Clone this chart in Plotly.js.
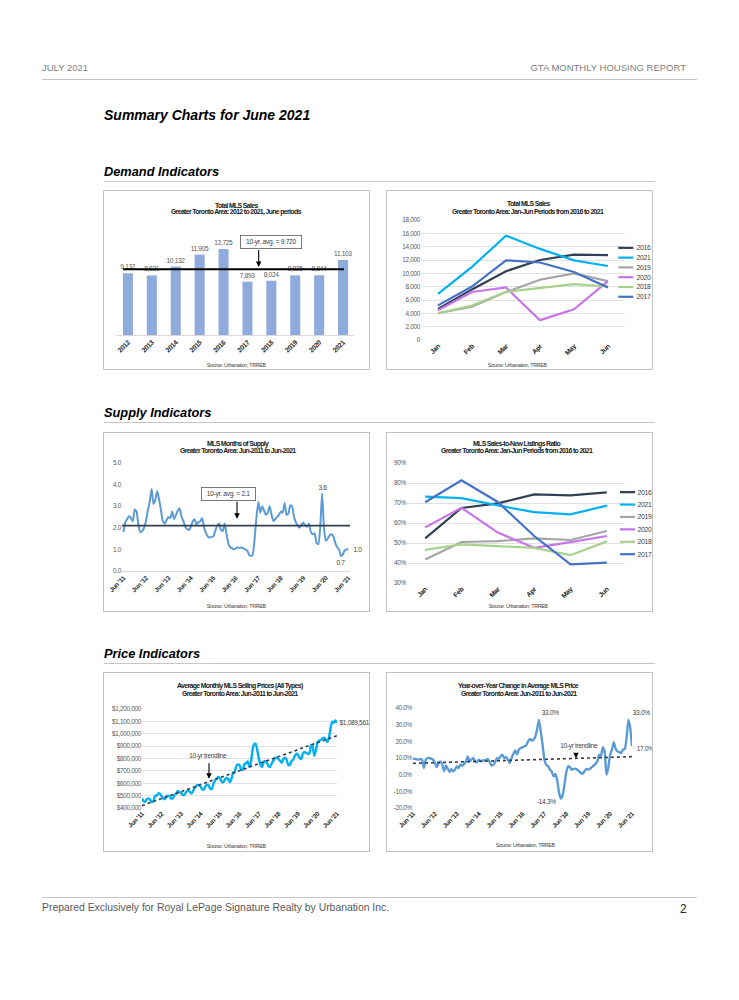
<!DOCTYPE html>
<html><head><meta charset="utf-8">
<script src="https://cdn.plot.ly/plotly-3.0.1.min.js"></script>
<style>
body{margin:0;background:#fff;}
#page{position:relative;width:739px;height:1000px;overflow:hidden;background:#fff;font-family:'Liberation Sans',Arial,sans-serif;}
.t{position:absolute;white-space:nowrap;line-height:1;}
.hl{position:absolute;height:0;border-top:1px solid #c6c6c6;}
.box{position:absolute;border:1px solid #c3c3c3;box-sizing:border-box;pointer-events:none;}
.sec{font-weight:bold;font-style:italic;color:#000;font-size:12.8px;left:104px;}
.main-svg text{letter-spacing:-0.3px;}
</style></head>
<body><div id="page">
<div class="t" style="left:42px;top:63.3px;font-size:9.5px;color:#808080;">JULY 2021</div>
<div class="t" style="right:53px;top:63.3px;font-size:9.5px;color:#808080;">GTA MONTHLY HOUSING REPORT</div>
<div class="hl" style="left:42px;top:79px;width:655px;"></div>
<div class="t" style="left:104px;top:108.2px;font-size:14px;font-weight:bold;font-style:italic;color:#000;">Summary Charts for June 2021</div>
<div class="t sec" style="top:165.7px;">Demand Indicators</div>
<div class="hl" style="left:104px;top:181px;width:551px;"></div>
<div class="t sec" style="top:406.7px;">Supply Indicators</div>
<div class="hl" style="left:104px;top:422px;width:551px;"></div>
<div class="t sec" style="top:647.7px;">Price Indicators</div>
<div class="hl" style="left:104px;top:663px;width:551px;"></div>
<div class="hl" style="left:42px;top:897px;width:655px;"></div>
<div class="t" style="left:42px;top:903px;font-size:10.4px;color:#595959;">Prepared Exclusively for Royal LePage Signature Realty by Urbanation Inc.</div>
<div class="t" style="left:680px;top:903px;font-size:12px;color:#222;">2</div>
</div>
<script>
// ---------------- DATA ----------------
const salesYears = ['2012','2013','2014','2015','2016','2017','2018','2019','2020','2021'];
const juneSales = [9132, 8821, 10132, 11905, 12725, 7893, 8024, 8825, 8844, 11103];
const avgSales = 9720;

const monthsJanJun = ['Jan','Feb','Mar','Apr','May','Jun'];
const lineYears = ['2016','2021','2019','2020','2018','2017'];
const sales2016 = [4672, 7588, 10326, 12008, 12794, 12725];
const sales2021 = [6928, 10970, 15652, 13663, 11951, 11103];
const sales2019 = [4009, 5005, 7187, 9042, 9989, 8825];
const sales2020 = [4472, 7195, 7876, 2975, 4606, 8844];
const sales2018 = [4019, 5175, 7228, 7792, 8384, 8024];
const sales2017 = [5188, 8014, 11954, 11630, 10196, 7893];

const snlr2016 = [52.3, 67.5, 69.8, 74.3, 73.8, 75.3];
const snlr2021 = [73.2, 72.4, 68.8, 65.4, 64.3, 68.7];
const snlr2019 = [41.8, 50.5, 50.9, 52.3, 51.5, 56.0];
const snlr2020 = [57.8, 67.6, 55.2, 47.6, 50.4, 53.5];
const snlr2018 = [46.6, 49.3, 48.4, 47.6, 43.9, 50.8];
const snlr2017 = [70.4, 81.4, 70.5, 53.5, 39.3, 40.2];

const seriesStart = '2011-06'; // Jun-2011 .. Jun-2021, monthly
const monthsSupply = [
 1.8,2.25,2.4,2.55,2.45,2.3,2.85,2.75,2.1,1.8,1.85,2.0,
 2.3,2.8,3.2,3.8,3.1,3.3,3.7,3.3,2.8,2.3,2.2,2.35,
 2.5,2.45,2.75,2.4,2.6,2.8,2.9,2.5,2.3,2.05,1.95,1.9,
 2.05,2.3,2.4,2.15,2.25,2.3,2.45,2.0,1.75,1.6,1.55,1.58,
 1.6,1.85,2.1,2.2,1.9,1.85,2.2,1.7,1.25,1.1,1.05,1.0,
 1.05,1.1,1.05,1.1,1.05,1.0,0.95,0.75,0.7,0.75,1.5,2.5,
 3.2,2.7,3.0,2.8,2.6,2.7,3.0,2.6,2.3,2.4,2.5,2.6,
 2.75,2.7,3.15,2.6,2.65,3.05,3.0,2.5,2.25,2.1,2.0,2.15,
 2.25,2.1,2.05,2.2,1.8,1.7,1.75,1.3,1.25,2.0,3.6,2.0,
 1.4,1.5,1.65,1.7,1.6,1.3,1.1,1.0,0.7,0.75,0.95,1.0,
 1.0];
const avgSupply = 2.1;

const avgPrice = [
 478000,455000,450000,472000,478000,468000,447000,
 455000,497000,500000,518000,515000,497000,477000,471000,492000,500000,492000,476000,
 480000,509000,516000,537000,528000,523000,508000,506000,526000,538000,537000,520000,
 525000,555000,571000,587000,584000,575000,551000,549000,575000,588000,583000,556000,
 553000,599000,622000,640000,650000,640000,613000,608000,628000,642000,635000,608000,
 633000,685000,688000,739000,752000,747000,710000,710000,756000,762000,776000,730000,
 770000,875000,917000,920000,863000,793000,746000,732000,775000,780000,761000,735000,
 736000,767000,784000,805000,806000,795000,782000,765000,796000,807000,788000,748000,
 747000,780000,788000,820000,838000,831000,806000,793000,843000,852000,846000,838000,
 839000,910000,902000,821000,863000,930000,944000,951000,961000,968000,956000,932000,
 967000,1045000,1097000,1090000,1108000,1089561];
const priceTrend = [419000, 985000]; // 10-yr trendline, Jun-2011 and Jun-2021

const yoyChange = [
 9.5,9.5,9.2,9.0,9.5,8.8,4.0,9.0,10.0,10.0,9.5,9.0,
 7.0,4.5,7.0,8.0,6.0,2.0,5.5,3.5,1.5,3.5,2.0,3.0,
 5.0,4.0,6.0,5.5,6.5,8.0,11.0,8.0,9.0,10.0,8.0,7.5,
 9.0,8.0,8.5,8.5,9.0,9.5,7.5,5.5,6.0,7.5,10.0,9.5,
 11.0,12.0,10.0,10.5,9.0,7.0,10.0,12.5,14.5,12.0,15.0,16.0,
 16.5,17.0,17.5,20.0,21.5,20.5,21.0,23.0,27.5,33.0,26.0,18.0,
 9.0,6.0,5.0,3.0,2.0,-1.0,0.5,-3.5,-11.0,-14.3,-12.5,-6.0,
 1.5,5.0,4.5,3.0,3.5,3.5,3.0,2.0,1.0,0.5,2.0,3.5,
 3.0,3.5,4.5,5.5,6.5,8.0,12.0,11.5,16.5,14.0,0.0,4.0,
 12.0,15.0,19.5,15.5,14.0,13.5,13.0,15.0,15.5,21.5,33.0,28.5,
 17.0];
const yoyTrend = [6.8, 10.8];

// ---------------- STYLE / HELPERS ----------------
const FONT = "'Liberation Sans',Arial,sans-serif";
const W = 267, H = 180;
const BOX = {c1:{x:103,y:190}, c2:{x:386,y:190}, c3:{x:103,y:432}, c4:{x:386,y:432}, c5:{x:103,y:672}, c6:{x:386,y:672}};
const lineColors = ['#333F55','#00B0F0','#A5A5A5','#C774E8','#A9D18E','#4472C4'];
const page = document.getElementById('page');

function monthSeq(start, n){
  const [y, m] = start.split('-').map(Number); const out = [];
  for (let i = 0; i < n; i++){ const k = m - 1 + i; out.push((y + Math.floor(k/12)) + '-' + String(k%12 + 1).padStart(2,'0') + '-01'); }
  return out;
}
function toPaper(key, m, X, Y){
  const b = BOX[key], pw = W - m.l - m.r, ph = H - m.t - m.b;
  return {x:(X - b.x - m.l)/pw, y:(H - m.b - (Y - b.y))/ph};
}
function note(key, m, X, Y, text, o){
  const p = toPaper(key, m, X, Y);
  return Object.assign({xref:'paper', yref:'paper', x:p.x, y:p.y, text:text, showarrow:false,
    xanchor:'center', yanchor:'middle', font:{family:FONT, size:6.5, color:'#404040'}}, o || {});
}
function arrow(key, m, X, Y0, Y1){
  const p = toPaper(key, m, X, Y1);
  return {xref:'paper', yref:'paper', x:p.x, y:p.y, ax:0, ay:Y0 - Y1, text:'', showarrow:true,
    arrowhead:2, arrowsize:1, arrowwidth:1.1, arrowcolor:'#000'};
}
const tSpan = s => '<span style="letter-spacing:-0.65px"><b>' + s + '</b></span>';
function titleNotes(key, m, cx, y1, y2, t1, t2, srcX, srcY){
  return [
    note(key, m, cx, y1, tSpan(t1), {font:{family:FONT, size:6.9, color:'#1a1a1a'}}),
    note(key, m, cx, y2, tSpan(t2), {font:{family:FONT, size:6.9, color:'#1a1a1a'}}),
    note(key, m, srcX, srcY, 'Source: Urbanation, TRREB', {font:{family:FONT, size:5.3, color:'#404040'}})
  ];
}
function legendItems(key, m, names, colors, x0, x1, tx, y0, dy){
  const shapes = [], anns = [];
  names.forEach((n, i) => {
    const a = toPaper(key, m, x0, y0 + i*dy), c = toPaper(key, m, x1, y0 + i*dy);
    shapes.push({type:'line', xref:'paper', yref:'paper', x0:a.x, x1:c.x, y0:a.y, y1:a.y, line:{color:colors[i], width:2.2}});
    anns.push(note(key, m, tx, y0 + i*dy, n, {xanchor:'left', borderpad:0, font:{family:FONT, size:6.8, color:'#404040'}}));
  });
  return {shapes, anns};
}
function base(m){
  return {width:W, height:H, margin:{l:m.l, r:m.r, t:m.t, b:m.b, pad:0}, showlegend:false,
    paper_bgcolor:'rgba(0,0,0,0)', plot_bgcolor:'rgba(0,0,0,0)', hovermode:false,
    font:{family:FONT, size:6.5, color:'#595959'}};
}
function plot(key, traces, layout){
  const b = BOX[key];
  const d = document.createElement('div');
  d.style.cssText = 'position:absolute;left:' + b.x + 'px;top:' + b.y + 'px;width:' + W + 'px;height:' + H + 'px;';
  page.appendChild(d);
  const f = document.createElement('div'); f.className = 'box';
  f.style.cssText = 'left:' + b.x + 'px;top:' + b.y + 'px;width:' + W + 'px;height:' + H + 'px;';
  page.appendChild(f);
  Plotly.newPlot(d, traces, layout, {staticPlot:true, displayModeBar:false});
}
const xTickBold = {family:FONT, size:6.8, color:'#262626', weight:'bold'};
const yTick = {family:FONT, size:6.4, color:'#595959'};
const fmt = v => v.toLocaleString('en-US');

// ---------------- CHART 1: bars ----------------
(function(){
  const k = 'c1', m = {l:13, r:15, t:50, b:35};
  const L = base(m);
  L.xaxis = {type:'category', tickangle:-45, tickfont:xTickBold, showline:true, linecolor:'#d9d9d9', linewidth:1, ticks:'', showgrid:false, zeroline:false};
  L.yaxis = {range:[0, 14060], visible:false, showgrid:false, zeroline:false};
  L.bargap = 0.58;
  L.shapes = [{type:'line', xref:'paper', yref:'y', x0:toPaper(k,m,123,0).x, x1:toPaper(k,m,344,0).x, y0:avgSales, y1:avgSales, line:{color:'#000', width:2}}];
  L.annotations = titleNotes(k, m, 236, 205, 212, 'Total MLS Sales', 'Greater Toronto Area: 2012 to 2021, June periods', 236, 365).concat([
    note(k, m, 270.5, 242, '10-yr. avg. = ' + fmt(avgSales), {bgcolor:'#fff', bordercolor:'#595959', borderwidth:0.8, borderpad:2.4, font:{family:FONT, size:6.7, color:'#404040'}}),
    arrow(k, m, 258.7, 248.5, 267)
  ]);
  plot(k, [{type:'bar', x:salesYears, y:juneSales, marker:{color:'#8FAADC'}, text:juneSales.map(fmt), textposition:'outside',
    textangle:0, constraintext:'none', cliponaxis:false, textfont:{family:FONT, size:6.5, color:'#595959'}}], L);
})();

// ---------------- CHART 2: sales lines ----------------
(function(){
  const k = 'c2', m = {l:35, r:28, t:30.3, b:30.3};
  const series = [sales2016, sales2021, sales2019, sales2020, sales2018, sales2017];
  const L = base(m);
  L.xaxis = {type:'category', tickangle:-45, tickfont:xTickBold, ticks:'', showline:false, showgrid:false, zeroline:false, range:[-0.5, 5.5]};
  L.yaxis = {range:[0, 18000], dtick:2000, tickformat:',', gridcolor:'#d9d9d9', gridwidth:0.8, zeroline:false, showline:false, ticks:'', tickfont:yTick};
  const lg = legendItems(k, m, lineYears, lineColors, 618.3, 633.3, 635, 248, 9.74);
  L.shapes = lg.shapes;
  L.annotations = titleNotes(k, m, 528, 203.7, 212, 'Total MLS Sales', 'Greater Toronto Area: Jan-Jun Periods from 2016 to 2021', 517.7, 364.7).concat(lg.anns);
  plot(k, series.map((s, i) => ({type:'scatter', mode:'lines', x:monthsJanJun, y:s, name:lineYears[i], line:{color:lineColors[i], width:2.2}, cliponaxis:false})), L);
})();

// ---------------- CHART 3: months of supply ----------------
(function(){
  const k = 'c3', m = {l:19.3, r:20.3, t:31.3, b:41};
  const dates = monthSeq(seriesStart, monthsSupply.length);
  const L = base(m);
  L.xaxis = {type:'date', range:['2011-05-09','2021-06-28'], tick0:'2011-06-01', dtick:'M12', tickformat:"%b '%y", tickangle:-45, tickfont:{family:FONT, size:6.4, color:'#262626', weight:'bold'}, ticks:'', showline:true, linecolor:'#d9d9d9', showgrid:false, zeroline:false};
  L.yaxis = {range:[0, 5], dtick:1, tickformat:'.1f', showgrid:false, zeroline:false, ticks:'', tickfont:yTick};
  L.shapes = [{type:'line', xref:'paper', yref:'y', x0:0, x1:1, y0:avgSupply, y1:avgSupply, line:{color:'#333F50', width:1.6}}];
  const n = monthsSupply.length;
  const iMax = monthsSupply.indexOf(Math.max(...monthsSupply.slice(96)), 96);
  const iMin = monthsSupply.indexOf(Math.min(...monthsSupply.slice(108)), 108);
  const lf = {family:FONT, size:6.5, color:'#404040'};
  L.annotations = titleNotes(k, m, 238, 444, 451, 'MLS Months of Supply', 'Greater Toronto Area: Jun-2011 to Jun-2021', 236, 605.7).concat([
    note(k, m, 228.5, 494.7, '10-yr. avg. = ' + avgSupply.toFixed(1), {bgcolor:'#fff', bordercolor:'#595959', borderwidth:0.8, borderpad:2.4, font:{family:FONT, size:6.7, color:'#404040'}}),
    arrow(k, m, 237, 500.5, 519),
    {xref:'x', yref:'y', x:dates[iMax], y:monthsSupply[iMax], text:monthsSupply[iMax].toFixed(1), showarrow:false, xanchor:'center', yanchor:'bottom', yshift:0, font:lf},
    {xref:'x', yref:'y', x:dates[iMin], y:monthsSupply[iMin], text:monthsSupply[iMin].toFixed(1), showarrow:false, xanchor:'center', yanchor:'top', yshift:-1, font:lf},
    {xref:'x', yref:'y', x:dates[n-1], y:monthsSupply[n-1], text:monthsSupply[n-1].toFixed(1), showarrow:false, xanchor:'left', xshift:3, yanchor:'middle', font:lf}
  ]);
  plot(k, [{type:'scatter', mode:'lines', x:dates, y:monthsSupply, line:{color:'#5B9BD5', width:2, shape:'spline', smoothing:0.4}, cliponaxis:false}], L);
})();

// ---------------- CHART 4: sales-to-new listings ----------------
(function(){
  const k = 'c4', m = {l:20.8, r:28, t:31.3, b:29.3};
  const series = [snlr2016, snlr2021, snlr2019, snlr2020, snlr2018, snlr2017];
  const L = base(m);
  L.xaxis = {type:'category', tickangle:-45, tickfont:xTickBold, ticks:'', showline:false, showgrid:false, zeroline:false, range:[-0.5, 5.5]};
  L.yaxis = {range:[30, 90], dtick:10, ticksuffix:'%', gridcolor:'#d9d9d9', gridwidth:0.8, zeroline:false, showline:false, ticks:'', tickfont:yTick};
  const lg = legendItems(k, m, lineYears, lineColors, 620, 635, 636.5, 492.3, 12.35);
  L.shapes = lg.shapes;
  L.annotations = titleNotes(k, m, 516.7, 444, 450.7, 'MLS Sales-to-New Listings Ratio', 'Greater Toronto Area: Jan-Jun Periods from 2016 to 2021', 518.3, 605.7).concat(lg.anns);
  plot(k, series.map((s, i) => ({type:'scatter', mode:'lines', x:monthsJanJun, y:s, name:lineYears[i], line:{color:lineColors[i], width:2.2}, cliponaxis:false})), L);
})();

// ---------------- CHART 5: average price ----------------
(function(){
  const k = 'c5', m = {l:39, r:33, t:37.3, b:43.7};
  const dates = monthSeq(seriesStart, avgPrice.length), n = avgPrice.length;
  const L = base(m);
  L.xaxis = {type:'date', range:[dates[0], dates[n-1]], tick0:'2011-06-01', dtick:'M12', tickformat:"%b '%y", tickangle:-45, tickfont:{family:FONT, size:6.4, color:'#262626', weight:'bold'}, ticks:'', showline:false, showgrid:false, zeroline:false};
  L.yaxis = {range:[400000, 1200000], dtick:100000, tickprefix:'$', tickformat:',.0f', gridcolor:'#d9d9d9', gridwidth:0.8, zeroline:false, showline:false, ticks:'', tickfont:yTick};
  L.annotations = titleNotes(k, m, 239.7, 686.7, 694, 'Average Monthly MLS Selling Prices (All Types)', 'Greater Toronto Area: Jun-2011 to Jun-2021', 236.3, 846).concat([
    {xref:'x', yref:'y', x:dates[n-1], y:avgPrice[n-1], text:'$' + fmt(avgPrice[n-1]), showarrow:false, xanchor:'left', xshift:0, borderpad:0, yanchor:'middle', font:{family:FONT, size:6.5, color:'#404040'}},
    note(k, m, 208, 756, '10-yr trendline'),
    arrow(k, m, 209, 762, 779)
  ]);
  plot(k, [
    {type:'scatter', mode:'lines', x:dates, y:avgPrice, line:{color:'#00B0F0', width:2.4, shape:'spline', smoothing:0.4}, cliponaxis:false},
    {type:'scatter', mode:'lines', x:[dates[0], dates[n-1]], y:priceTrend, line:{color:'#2F3A52', width:1.6, dash:'dot'}, cliponaxis:false}
  ], L);
})();

// ---------------- CHART 6: YoY change ----------------
(function(){
  const k = 'c6', m = {l:26.7, r:21.3, t:36.3, b:44.3};
  const dates = monthSeq(seriesStart, yoyChange.length), n = yoyChange.length;
  const L = base(m);
  L.xaxis = {type:'date', range:[dates[0], dates[n-1]], tick0:'2011-06-01', dtick:'M12', tickformat:"%b '%y", tickangle:-45, tickfont:{family:FONT, size:6.4, color:'#262626', weight:'bold'}, ticks:'', showline:false, showgrid:false, zeroline:false};
  L.yaxis = {range:[-20, 40], dtick:10, tickvals:[-20,-10,0,10,20,30,40], ticktext:['-20.0%','-10.0%','0.0%','10.0%','20.0%','30.0%','40.0%'], showgrid:false, zeroline:false, showline:false, ticks:'', tickfont:yTick};
  const pk1 = yoyChange.indexOf(Math.max(...yoyChange.slice(0, 90)));
  const pk2 = yoyChange.indexOf(Math.max(...yoyChange.slice(100)), 100);
  const lo = yoyChange.indexOf(Math.min(...yoyChange));
  const lf = {family:FONT, size:6.5, color:'#404040'};
  const pct = v => v.toFixed(1) + '%';
  L.annotations = titleNotes(k, m, 518.3, 686.7, 694, 'Year-over-Year Change in Average MLS Price', 'Greater Toronto Area: Jun-2011 to Jun-2021', 525, 844).concat([
    {xref:'x', yref:'y', x:dates[pk1], y:yoyChange[pk1], text:pct(yoyChange[pk1]), showarrow:false, xanchor:'left', xshift:0, yanchor:'bottom', yshift:2, font:lf},
    {xref:'x', yref:'y', x:dates[pk2], y:yoyChange[pk2], text:pct(yoyChange[pk2]), showarrow:false, xanchor:'left', xshift:2, yanchor:'bottom', yshift:2, font:lf},
    {xref:'x', yref:'y', x:dates[n-1], y:yoyChange[n-1], text:pct(yoyChange[n-1]), showarrow:false, xanchor:'left', xshift:3, borderpad:0, yanchor:'middle', yshift:-2, font:lf},
    {xref:'x', yref:'y', x:dates[lo], y:yoyChange[lo], text:'-' + pct(Math.abs(yoyChange[lo])), showarrow:false, xanchor:'right', xshift:-2, yanchor:'middle', yshift:-3, font:lf},
    note(k, m, 578.3, 746, '10-yr trendline'),
    arrow(k, m, 575.7, 751.5, 758.3)
  ]);
  plot(k, [
    {type:'scatter', mode:'lines', x:dates, y:yoyChange, line:{color:'#5B9BD5', width:2.4, shape:'spline', smoothing:0.4}, cliponaxis:false},
    {type:'scatter', mode:'lines', x:[dates[0], dates[n-1]], y:yoyTrend, line:{color:'#2F3A52', width:1.6, dash:'dot'}, cliponaxis:false}
  ], L);
})();
</script>
</body></html>
